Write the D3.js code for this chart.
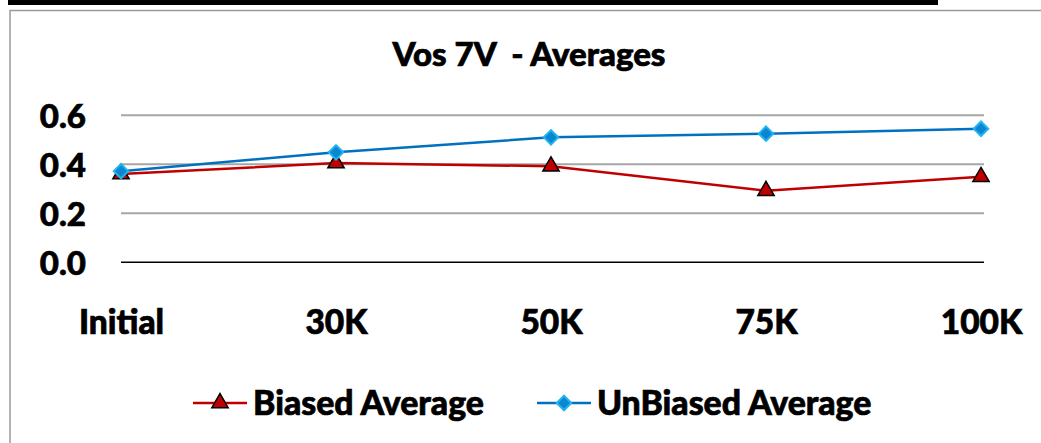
<!DOCTYPE html>
<html>
<head>
<meta charset="utf-8">
<script src="https://cdn.jsdelivr.net/npm/d3@7"></script>
<style>
  html, body { margin: 0; padding: 0; background: #fff; }
  svg { display: block; }
  text { font-family: Lato, "Open Sans", sans-serif; font-weight: 900; fill: #000; white-space: pre;
         stroke: #000; stroke-width: 0.7px; }
</style>
</head>
<body>
<svg id="chart" width="1041" height="443"></svg>
<script>
const categories = ["Initial", "30K", "50K", "75K", "100K"];
const biased = [0.36, 0.405, 0.392, 0.292, 0.349];
const unbiased = [0.372, 0.449, 0.51, 0.525, 0.545];
const yTicks = [0.0, 0.2, 0.4, 0.6];
const seriesNames = ["Biased Average", "UnBiased Average"];
const title = "Vos 7V  - Averages";

const svg = d3.select("#chart");
svg.append("rect").attr("width", 1041).attr("height", 443).attr("fill", "#fff");

// top black bar and cropped frame
svg.append("rect").attr("x", 8).attr("y", 0).attr("width", 930).attr("height", 5).attr("fill", "#000");
svg.append("path").attr("d", "M10,443 L10,10.5 L1041,10.5").attr("fill", "none")
  .attr("stroke", "#9a9a9a").attr("stroke-width", 1.5);

const x = d3.scalePoint().domain(categories).range([121, 981]);
const y = d3.scaleLinear().domain([0, 0.6]).range([262.3, 115.3]);

// gridlines
svg.append("g").selectAll("line").data(yTicks.filter(d => d > 0)).join("line")
  .attr("x1", 121).attr("x2", 984)
  .attr("y1", d => y(d)).attr("y2", d => y(d))
  .attr("stroke", "#a6a6a6").attr("stroke-width", 2);

// x axis line
svg.append("line").attr("x1", 121).attr("x2", 984).attr("y1", y(0)).attr("y2", y(0))
  .attr("stroke", "#000").attr("stroke-width", 1.5);

// y axis labels
const yAxis = d3.axisLeft(y).tickValues(yTicks).tickFormat(d3.format(".1f")).tickSize(0).tickPadding(0);
const gy = svg.append("g").attr("transform", "translate(86,0)").call(yAxis);
gy.select(".domain").remove();
gy.selectAll("text").attr("font-size", 33).attr("dy", "0.36em").style("font-family", "Lato").style("font-weight", "900");

// x axis labels
const xAxis = d3.axisBottom(x).tickSize(0).tickPadding(0);
const gx = svg.append("g").attr("transform", "translate(0,334)").call(xAxis);
gx.select(".domain").remove();
gx.selectAll("text").attr("font-size", 33.5).attr("dy", 0).attr("y", 0).style("font-family", "Lato").style("font-weight", "900");

// title
svg.append("text").attr("x", 529).attr("y", 66).attr("text-anchor", "middle")
  .attr("font-size", 33).text(title);

const line = d3.line().x((d, i) => x(categories[i])).y(d => y(d));
const redC = "#c00000", blueC = "#0070c0";

svg.append("path").datum(biased).attr("d", line).attr("fill", "none")
  .attr("stroke", redC).attr("stroke-width", 2.5);
svg.append("path").datum(unbiased).attr("d", line).attr("fill", "none")
  .attr("stroke", blueC).attr("stroke-width", 2.5);

const tri = d3.symbol().type(d3.symbolTriangle).size(115);
const dia = d3.symbol().type(d3.symbolSquare).size(105);

svg.append("g").selectAll("path").data(biased).join("path")
  .attr("d", tri)
  .attr("transform", (d, i) => `translate(${x(categories[i])},${y(d)})`)
  .attr("fill", redC).attr("stroke", "#000").attr("stroke-width", 1.5);
svg.append("g").selectAll("path").data(unbiased).join("path")
  .attr("d", dia)
  .attr("transform", (d, i) => `translate(${x(categories[i])},${y(d)}) rotate(45)`)
  .attr("fill", "#0a86d2").attr("stroke", "#20b4f0").attr("stroke-width", 2);

// legend
const legend = [
  { name: seriesNames[0], lx: 193, color: redC, sym: tri, rot: 0, fill: redC, stroke: "#000", sw: 1.5 },
  { name: seriesNames[1], lx: 537, color: blueC, sym: dia, rot: 45, fill: "#0a86d2", stroke: "#20b4f0", sw: 2 }
];
const ly = 403;
legend.forEach(l => {
  const g = svg.append("g");
  g.append("line").attr("x1", l.lx).attr("x2", l.lx + 54).attr("y1", ly).attr("y2", ly)
    .attr("stroke", l.color).attr("stroke-width", 2.5);
  g.append("path").attr("d", l.sym).attr("transform", `translate(${l.lx + 27},${ly}) rotate(${l.rot})`)
    .attr("fill", l.fill).attr("stroke", l.stroke).attr("stroke-width", l.sw);
  g.append("text").attr("x", l.lx + 60).attr("y", ly + 12).attr("font-size", 33.8).text(l.name);
});
</script>
</body>
</html>
